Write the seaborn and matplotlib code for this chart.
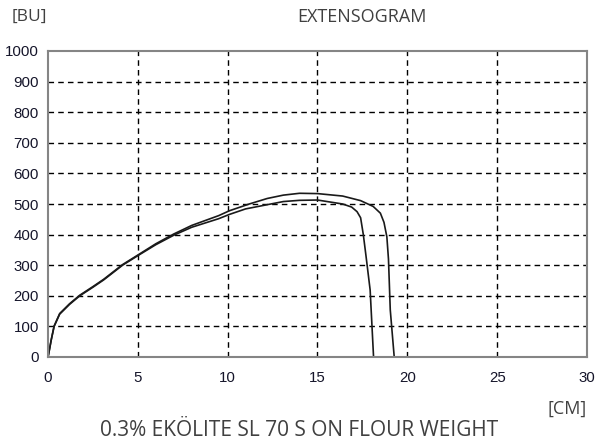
import matplotlib
matplotlib.use("Agg")
import matplotlib.pyplot as plt
import seaborn as sns
import pandas as pd

# Curve 1 (lower, shorter)
x_a = [0.02, 0.18, 0.34, 0.65, 1.2, 1.77, 2.5, 3.1, 4.15, 5.05, 6.0, 7.0, 8.0, 9.5, 10.1, 11.0,
       12.4, 13.1, 14.0, 15.0, 16.4, 16.9, 17.2, 17.4, 17.55, 17.7, 17.93, 18.12]
y_a = [5, 56, 100, 140, 172, 200, 228, 252, 300, 333, 367, 398, 424, 452, 466, 484,
       500, 508, 512, 513, 500, 490, 475, 455, 400, 330, 219, 0]

# Curve 2 (upper, longer)
x_b = [0.02, 0.18, 0.34, 0.65, 1.2, 1.77, 2.5, 3.1, 4.15, 5.05, 6.0, 7.0, 8.0, 9.5, 10.1, 11.2,
       12.2, 13.1, 14.0, 15.0, 16.4, 17.4, 18.1, 18.5, 18.7, 18.86, 18.95, 19.05, 19.27]
y_b = [5, 56, 101, 142, 174, 202, 230, 254, 302, 335, 370, 402, 430, 462, 478, 500,
       518, 529, 535, 534, 526, 511, 492, 470, 440, 393, 320, 154, 0]

x_ticks = [0, 5, 10, 15, 20, 25, 30]
y_ticks = [0, 100, 200, 300, 400, 500, 600, 700, 800, 900, 1000]

title = "EXTENSOGRAM"
y_unit = "[BU]"
x_unit = "[CM]"
caption = "0.3% EKÖLITE SL 70 S ON FLOUR WEIGHT"

sns.set_style("white")
plt.rcParams['font.family'] = ['Liberation Sans', 'DejaVu Sans']

fig = plt.figure(figsize=(5.98, 4.43), dpi=100)
ax = fig.add_axes([48 / 598, 1 - 357 / 443, (587 - 48) / 598, (357 - 51) / 443])

df_a = pd.DataFrame({"x": x_a, "y": y_a})
df_b = pd.DataFrame({"x": x_b, "y": y_b})
sns.lineplot(data=df_a, x="x", y="y", sort=False, color="#1a1a1a", linewidth=1.2, ax=ax)
sns.lineplot(data=df_b, x="x", y="y", sort=False, color="#1a1a1a", linewidth=1.2, ax=ax)

ax.set_xlim(0, 30)
ax.set_ylim(0, 1000)
ax.set_xticks(x_ticks)
ax.set_yticks(y_ticks)
ax.set_xlabel("")
ax.set_ylabel("")
ax.grid(True, color="black", linestyle=(0, (4, 3)), linewidth=1.0)
ax.set_axisbelow(True)
xg = ax.xaxis.get_gridlines()
yg = ax.yaxis.get_gridlines()
xg[0].set_visible(False)
xg[-1].set_visible(False)
yg[0].set_visible(False)
yg[-1].set_visible(False)
for s in ax.spines.values():
    s.set_color("#858585")
    s.set_linewidth(1.5)
ax.tick_params(axis="both", which="both", direction="out", length=4, width=1,
               color="#333333", labelsize=10.8, labelcolor="#15152a", pad=2.5)
ax.tick_params(axis="x", pad=6)

tfont = ['Open Sans', 'DejaVu Sans']
fig.text(12 / 598, 1 - 16.5 / 443, y_unit, ha="left", va="center", fontsize=12.5,
         color="#404040", family=tfont)
fig.text(361.5 / 598, 1 - 16.5 / 443, title, ha="center", va="center", fontsize=13,
         color="#404040", family=tfont)
fig.text(587 / 598, 1 - 409 / 443, x_unit, ha="right", va="center", fontsize=13,
         color="#404040", family=tfont)
fig.text(299 / 598, 1 - 430 / 443, caption, ha="center", va="center", fontsize=15,
         color="#404040", family=tfont)

fig.savefig("out.png", dpi=100)
